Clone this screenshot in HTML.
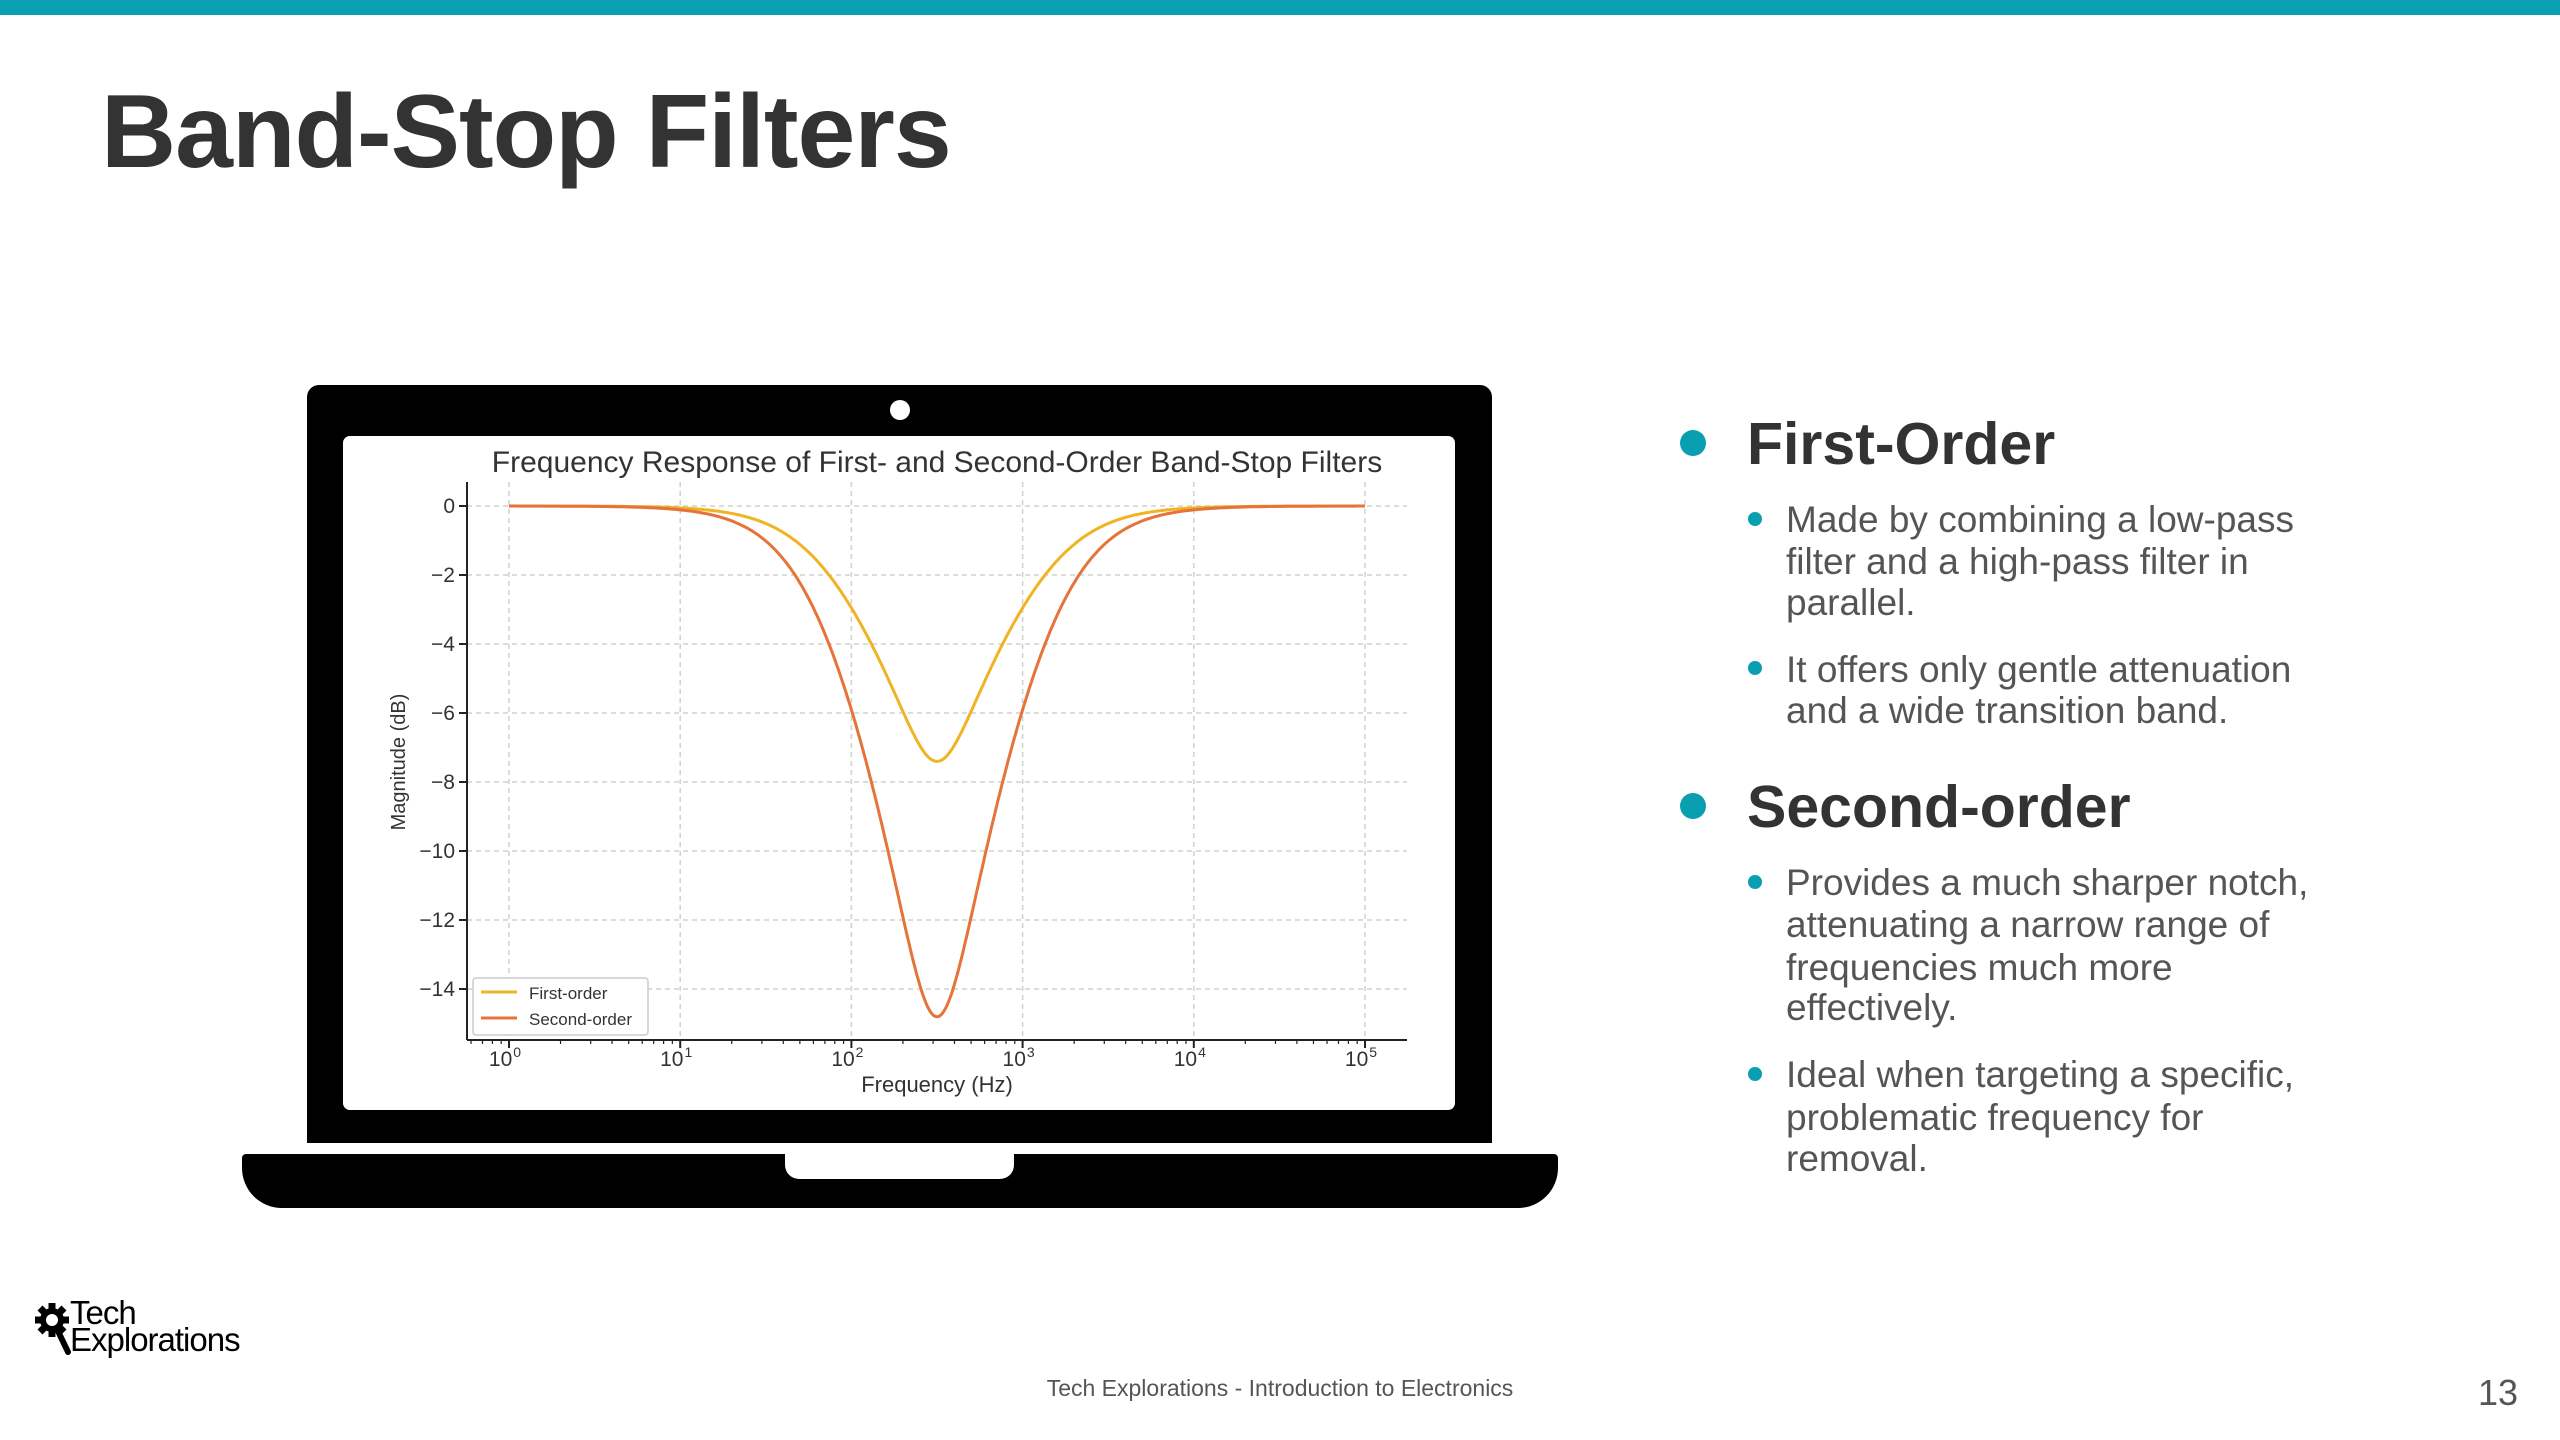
<!DOCTYPE html>
<html><head><meta charset="utf-8"><style>
*{margin:0;padding:0;box-sizing:border-box}
body{width:2560px;height:1440px;background:#fff;position:relative;overflow:hidden;font-family:"Liberation Sans","DejaVu Sans",sans-serif}
.a{position:absolute;white-space:nowrap}
.h{font-size:59px;font-weight:bold;color:#333;line-height:1}
.s{font-size:37px;color:#555;line-height:1}
.dot{position:absolute;border-radius:50%;background:#0a9fb0}
</style></head><body>
<div class="a" style="left:0;top:0;width:2560px;height:15px;background:#0aa0b2"></div>
<div class="a" style="left:101px;top:80px;font-size:104px;font-weight:bold;color:#333;line-height:1;letter-spacing:-1px">Band-Stop Filters</div>

<div class="a" style="left:307px;top:385px;width:1185px;height:758px;background:#000;border-radius:12px 12px 0 0"></div>
<div class="a" style="left:890px;top:400px;width:20px;height:20px;border-radius:50%;background:#fff"></div>
<div class="a" style="left:343px;top:436px;width:1112px;height:674px;background:#fff;border-radius:7px"></div>
<div class="a" style="left:242px;top:1154px;width:1316px;height:54px;background:#000;border-radius:4px 4px 40px 40px"></div>
<div class="a" style="left:785px;top:1154px;width:229px;height:25px;background:#fff;border-radius:0 0 14px 14px"></div>

<svg class="a" style="left:0;top:0" width="2560" height="1440" id="ch">
<g id="grid" stroke="#d0d0d0" stroke-width="1.5" stroke-dasharray="5,4"></g>
<g id="axes" stroke="#222" stroke-width="2"></g>
<path id="p1" fill="none" stroke="#f0b323" stroke-width="3"/>
<path id="p2" fill="none" stroke="#e5733a" stroke-width="3"/>
<g font-family="Liberation Sans, DejaVu Sans, sans-serif" fill="#333">
<text x="937" y="472" font-size="30" text-anchor="middle">Frequency Response of First- and Second-Order Band-Stop Filters</text>
<text x="937" y="1092" font-size="22" text-anchor="middle">Frequency (Hz)</text>
<text transform="translate(405,762) rotate(-90)" font-size="20" text-anchor="middle">Magnitude (dB)</text>
<g id="yl" font-size="21" text-anchor="end"></g>
<g id="xl" font-size="21" text-anchor="middle"></g>
</g>
<rect x="473" y="978" width="175" height="57" fill="#fff" stroke="#ccc" stroke-width="1.5" rx="3"/>
<line x1="481" y1="992" x2="517" y2="992" stroke="#f0b323" stroke-width="3"/>
<line x1="481" y1="1018" x2="517" y2="1018" stroke="#e5733a" stroke-width="3"/>
<text x="529" y="999" font-size="17" fill="#333" font-family="Liberation Sans, sans-serif">First-order</text>
<text x="529" y="1025" font-size="17" fill="#333" font-family="Liberation Sans, sans-serif">Second-order</text>
</svg>
<script>
(function(){
var X0=509,DEC=171.2,Y0=506,DB=34.5,L=467,B=1040,R=1407,T=482;
var ns="http://www.w3.org/2000/svg";
function el(p,t,a,txt){var e=document.createElementNS(ns,t);for(var k in a)e.setAttribute(k,a[k]);if(txt!=null)e.textContent=txt;document.getElementById(p).appendChild(e);return e;}
for(var d=0;d<=5;d++){var x=X0+d*DEC;el('grid','line',{x1:x,y1:T,x2:x,y2:B});
 var t=el('xl','text',{x:x-4,y:B+26});t.textContent='10';var s=document.createElementNS(ns,'tspan');s.setAttribute('font-size','14');s.setAttribute('dy','-9');s.setAttribute('dx','1');s.textContent=d;t.appendChild(s);
 el('axes','line',{x1:x,y1:B,x2:x,y2:B+8});}
for(var d=-1;d<=5;d++)for(var m=2;m<10;m++){var x=X0+(d+Math.log10(m))*DEC;if(x>L&&x<R)el('axes','line',{x1:x,y1:B,x2:x,y2:B+4,'stroke-width':1.2});}
for(var v=0;v>=-14;v-=2){var y=Y0-v*DB;el('grid','line',{x1:L,y1:y,x2:R,y2:y});el('axes','line',{x1:L-8,y1:y,x2:L,y2:y});
 el('yl','text',{x:L-12,y:y+7},v==0?'0':'\u2212'+(-v));}
el('axes','line',{x1:L,y1:T,x2:L,y2:B});el('axes','line',{x1:L,y1:B,x2:R,y2:B});
var D=5.19,dd=0.944,f0=316.2,a='',b='';
for(var i=0;i<=600;i++){var lf=5*i/600,x=Math.pow(10,lf)/f0,r=1-x*x;
 var h2=(r*r+x*x*dd*dd)/(r*r+x*x*D*D),db2=10*Math.log10(h2),db1=db2/2;
 var px=(X0+lf*DEC).toFixed(1);a+=(i?'L':'M')+px+','+(Y0-db1*DB).toFixed(1);b+=(i?'L':'M')+px+','+(Y0-db2*DB).toFixed(1);}
document.getElementById('p1').setAttribute('d',a);document.getElementById('p2').setAttribute('d',b);
})();
</script>

<div class="dot" style="left:1680px;top:430px;width:26px;height:26px"></div>
<div class="a h" style="left:1747px;top:415px">First-Order</div>
<div class="dot" style="left:1748px;top:512px;width:14px;height:14px"></div>
<div class="a s" style="left:1786px;top:501px">Made by combining a low-pass</div>
<div class="a s" style="left:1786px;top:543px">filter and a high-pass filter in</div>
<div class="a s" style="left:1786px;top:584px">parallel.</div>
<div class="dot" style="left:1748px;top:661px;width:14px;height:14px"></div>
<div class="a s" style="left:1786px;top:651px">It offers only gentle attenuation</div>
<div class="a s" style="left:1786px;top:692px">and a wide transition band.</div>

<div class="dot" style="left:1680px;top:793px;width:26px;height:26px"></div>
<div class="a h" style="left:1747px;top:778px">Second-order</div>
<div class="dot" style="left:1748px;top:875px;width:14px;height:14px"></div>
<div class="a s" style="left:1786px;top:864px">Provides a much sharper notch,</div>
<div class="a s" style="left:1786px;top:906px">attenuating a narrow range of</div>
<div class="a s" style="left:1786px;top:949px">frequencies much more</div>
<div class="a s" style="left:1786px;top:989px">effectively.</div>
<div class="dot" style="left:1748px;top:1067px;width:14px;height:14px"></div>
<div class="a s" style="left:1786px;top:1056px">Ideal when targeting a specific,</div>
<div class="a s" style="left:1786px;top:1099px">problematic frequency for</div>
<div class="a s" style="left:1786px;top:1140px">removal.</div>

<svg class="a" style="left:34px;top:1302px" width="40" height="54" viewBox="0 0 40 54">
<g transform="translate(18,18)" fill="#000">
<circle r="12"/>
<g><rect x="-3.5" y="-17" width="7" height="34"/><rect x="-17" y="-3.5" width="34" height="7"/>
<rect x="-3.5" y="-17" width="7" height="34" transform="rotate(45)"/><rect x="-3.5" y="-17" width="7" height="34" transform="rotate(-45)"/></g>
<circle r="6" fill="#fff"/></g>
<line x1="23" y1="27" x2="34" y2="50" stroke="#000" stroke-width="6" stroke-linecap="round"/>
</svg>
<div class="a" style="left:70px;top:1299px;font-size:33px;line-height:27px;color:#000;letter-spacing:-1px">Tech<br>Explorations</div>

<div class="a" style="left:0;width:2560px;top:1375px;text-align:center;font-size:23px;color:#555">Tech Explorations - Introduction to Electronics</div>
<div class="a" style="left:2478px;top:1372px;font-size:36px;color:#555">13</div>
</body></html>
